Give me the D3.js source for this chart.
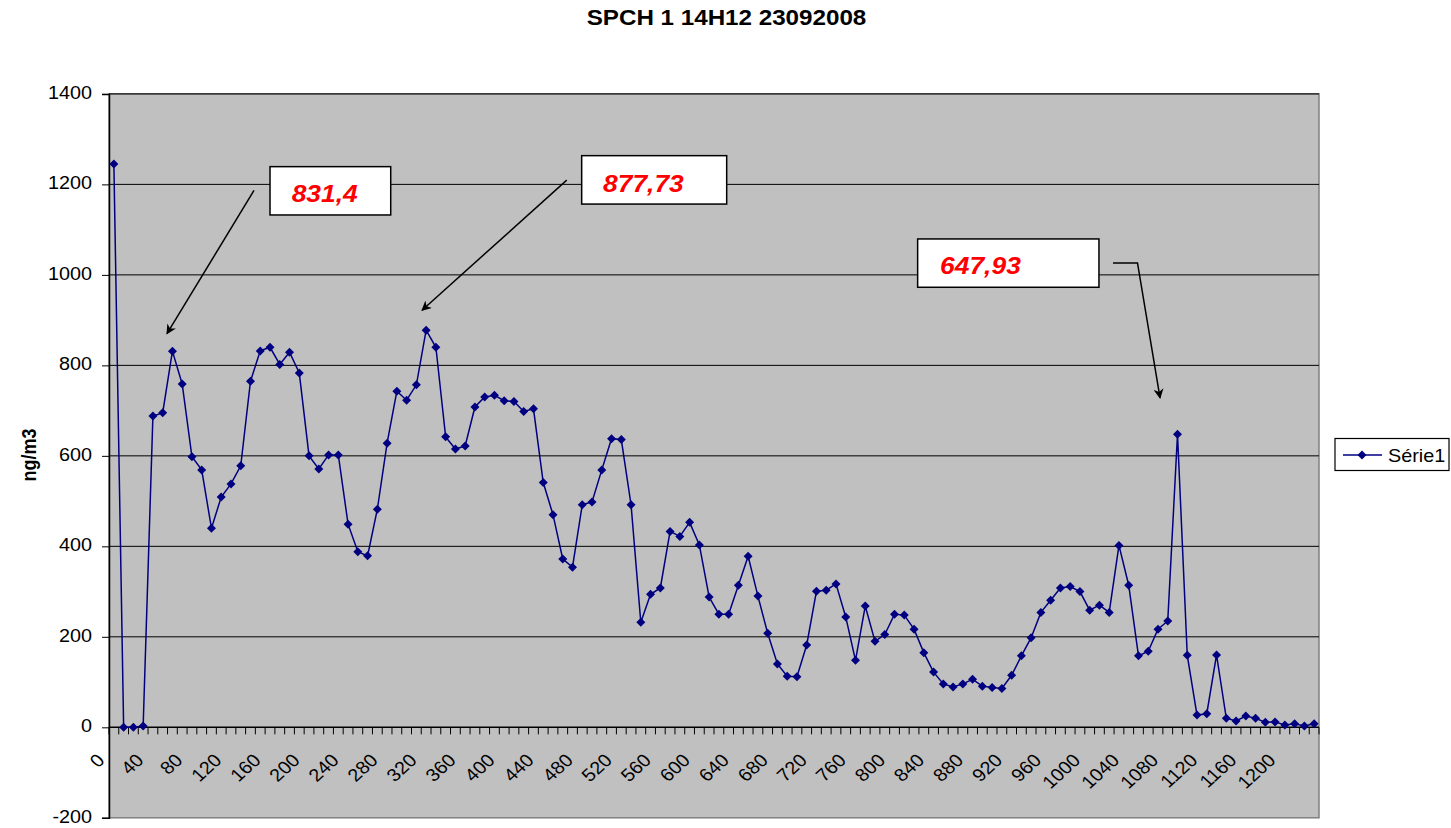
<!DOCTYPE html>
<html>
<head>
<meta charset="utf-8">
<script src="https://cdn.jsdelivr.net/npm/d3@7"></script>
<style>
  html, body { margin: 0; padding: 0; background: #ffffff; }
  svg { display: block; font-family: "Liberation Sans", Arial, sans-serif; }
</style>
</head>
<body>
<svg id="chart" width="1451" height="828"></svg>
<script>
// ---------- data ----------
const title = "SPCH 1 14H12 23092008";
const yTitle = "ng/m3";
const seriesName = "Série1";
const categories = [0,10,20,30,40,50,60,70,80,90,100,110,120,130,140,150,160,170,180,190,
  200,210,220,230,240,250,260,270,280,290,300,310,320,330,340,350,360,370,380,390,
  400,410,420,430,440,450,460,470,480,490,500,510,520,530,540,550,560,570,580,590,
  600,610,620,630,640,650,660,670,680,690,700,710,720,730,740,750,760,770,780,790,
  800,810,820,830,840,850,860,870,880,890,900,910,920,930,940,950,960,970,980,990,
  1000,1010,1020,1030,1040,1050,1060,1070,1080,1090,1100,1110,1120,1130,1140,1150,1160,1170,1180,1190,
  1200,1210,1220,1230];
const values = [1245,0,0,3,688,695,831.4,759,598,569,440,509,538,578,765,832,840,802,829,783,
  600,571,602,602,449,388,379,482,628,743,723,757,877.73,840,642,615,622,708,730,734,
  722,720,698,704,541,470,372,354,492,498,569,638,636,492,232,294,308,433,422,453,
  403,288,250,250,314,378,290,208,140,113,112,182,301,303,317,244,148,268,190,205,
  250,248,217,165,122,96,89,96,106,91,88,86,115,158,198,254,281,308,311,300,
  259,270,254,402,314,158,168,217,235,647.93,159,27,30,160,20,14,25,20,11,12,
  5,8,3,8];
const xTickLabels = ["0","40","80","120","160","200","240","280","320","360","400","440","480","520","560","600","640","680","720","760","800","840","880","920","960","1000","1040","1080","1120","1160","1200"];
const yTicks = [-200,0,200,400,600,800,1000,1200,1400];
// annotation callouts, in data units (u = category slot position, v = value)
const calloutLabels = ["831,4","877,73","647,93"];
const calloutBoxes = [[16.50,1239.2,28.87,1132.4],[48.44,1263.5,63.30,1156.5],[82.87,1079.4,101.45,972.6]];
const calloutTextPos = [[18.72,1161.8],[50.63,1183.9],[85.17,1002]];
const calloutArrows = [
  [[14.86,1186.6],[5.94,870.0]],
  [[46.91,1209.3],[32.08,921.9]],
  [[102.89,1026.3],[105.40,1026.3],[107.71,728.0]]
];

// ---------- layout ----------
const SX = 1.1; // horizontal text stretch
const L = 109, R = 1319, T = 93.9, B = 817.8;
const svg = d3.select("#chart");
const font = '"Liberation Sans", Arial, sans-serif';

const x = d3.scaleBand().domain(categories).range([L, R]).paddingInner(0).paddingOuter(0);
const xu = d3.scaleLinear().domain([0, categories.length]).range([L, R]);
const y = d3.scaleLinear().domain([-200, 1400]).range([B, T]);
const cx = c => x(c) + x.bandwidth() / 2;

const defs = svg.append("defs");
defs.append("marker").attr("id", "arrow").attr("viewBox", "0 0 10 10")
  .attr("refX", 9).attr("refY", 5).attr("markerWidth", 10).attr("markerHeight", 10)
  .attr("markerUnits", "userSpaceOnUse").attr("orient", "auto")
  .append("path").attr("d", "M0,0 L10,5 L0,10 L3,5 Z").attr("fill", "#000");

// plot area
svg.append("rect").attr("x", L).attr("y", T).attr("width", R - L).attr("height", B - T)
  .attr("fill", "#c0c0c0").attr("stroke", "#808080").attr("stroke-width", 1.5);

// gridlines
svg.append("g").selectAll("line").data(yTicks.filter(v => v > 0)).join("line")
  .attr("x1", L).attr("x2", R).attr("y1", d => y(d)).attr("y2", d => y(d))
  .attr("stroke", "#000").attr("stroke-width", 1);

// y axis
const yAxis = svg.append("g").attr("transform", `translate(${L},0)`)
  .call(d3.axisLeft(y).tickValues(yTicks).tickSize(7).tickFormat(d3.format("d")));
yAxis.select(".domain").attr("stroke", "#000").attr("stroke-width", 1.5);
yAxis.selectAll(".tick line").attr("stroke", "#000");
yAxis.selectAll(".tick text").remove();
svg.append("g").selectAll("text").data(yTicks).join("text")
  .attr("transform", d => `translate(92,${y(d) + 4.7}) scale(${SX},1)`)
  .attr("text-anchor", "end").attr("font-size", 18).attr("font-family", font).attr("fill", "#000")
  .text(d => d);

// x axis at 0
const xAxisY = y(0);
svg.append("line").attr("x1", L).attr("x2", R).attr("y1", xAxisY).attr("y2", xAxisY)
  .attr("stroke", "#000").attr("stroke-width", 1.5);
svg.append("g").selectAll("line").data(d3.range(categories.length + 1)).join("line")
  .attr("x1", d => xu(d)).attr("x2", d => xu(d)).attr("y1", xAxisY).attr("y2", xAxisY + 7)
  .attr("stroke", "#000").attr("stroke-width", 1);
svg.append("g").selectAll("text").data(xTickLabels).join("text")
  .attr("transform", d => `translate(${cx(+d) - 13},757) scale(${SX},1) rotate(-45)`)
  .attr("text-anchor", "end").attr("dy", "0.35em")
  .attr("font-size", 18).attr("font-family", font).attr("fill", "#000")
  .text(d => d);

// series
const pts = categories.map((c, i) => ({c, v: values[i]}));
svg.append("path").datum(pts)
  .attr("d", d3.line().x(d => cx(d.c)).y(d => y(d.v)))
  .attr("fill", "none").attr("stroke", "#000080").attr("stroke-width", 1.5);
const diamond = "M0,-4.5L4.5,0L0,4.5L-4.5,0Z";
svg.append("g").selectAll("path").data(pts).join("path")
  .attr("transform", d => `translate(${cx(d.c)},${y(d.v)})`)
  .attr("d", diamond).attr("fill", "#000080");

// callouts
calloutArrows.forEach(a => {
  svg.append("path")
    .attr("d", d3.line().x(p => xu(p[0])).y(p => y(p[1]))(a))
    .attr("fill", "none").attr("stroke", "#000").attr("stroke-width", 1.5)
    .attr("marker-end", "url(#arrow)");
});
calloutBoxes.forEach((b, i) => {
  svg.append("rect").attr("x", xu(b[0])).attr("y", y(b[1]))
    .attr("width", xu(b[2]) - xu(b[0])).attr("height", y(b[3]) - y(b[1]))
    .attr("fill", "#fff").attr("stroke", "#000").attr("stroke-width", 1.5);
  const tp = calloutTextPos[i];
  svg.append("text")
    .attr("transform", `translate(${xu(tp[0])},${y(tp[1])}) scale(${SX},1)`)
    .attr("font-size", 24).attr("font-weight", "bold").attr("font-style", "italic")
    .attr("font-family", font).attr("fill", "#ff0000")
    .text(calloutLabels[i]);
});

// title
svg.append("text").attr("transform", `translate(726.5,25) scale(${SX},1)`)
  .attr("text-anchor", "middle").attr("font-size", 22).attr("font-weight", "bold")
  .attr("font-family", font).attr("fill", "#000").text(title);

// y title
svg.append("text").attr("transform", `translate(36,455) scale(${SX},1) rotate(-90)`)
  .attr("text-anchor", "middle").attr("font-size", 18).attr("font-weight", "bold")
  .attr("font-family", font).attr("fill", "#000").text(yTitle);

// legend
const lg = svg.append("g");
lg.append("rect").attr("x", 1335).attr("y", 438.5).attr("width", 114).attr("height", 32)
  .attr("fill", "#fff").attr("stroke", "#000").attr("stroke-width", 1.2);
lg.append("line").attr("x1", 1343).attr("x2", 1382).attr("y1", 455).attr("y2", 455)
  .attr("stroke", "#000080").attr("stroke-width", 1.5);
lg.append("path").attr("transform", "translate(1362,455)").attr("d", diamond).attr("fill", "#000080");
lg.append("text").attr("transform", `translate(1388,461.5) scale(${SX},1)`)
  .attr("font-size", 18).attr("font-family", font).attr("fill", "#000").text(seriesName);
</script>
</body>
</html>
